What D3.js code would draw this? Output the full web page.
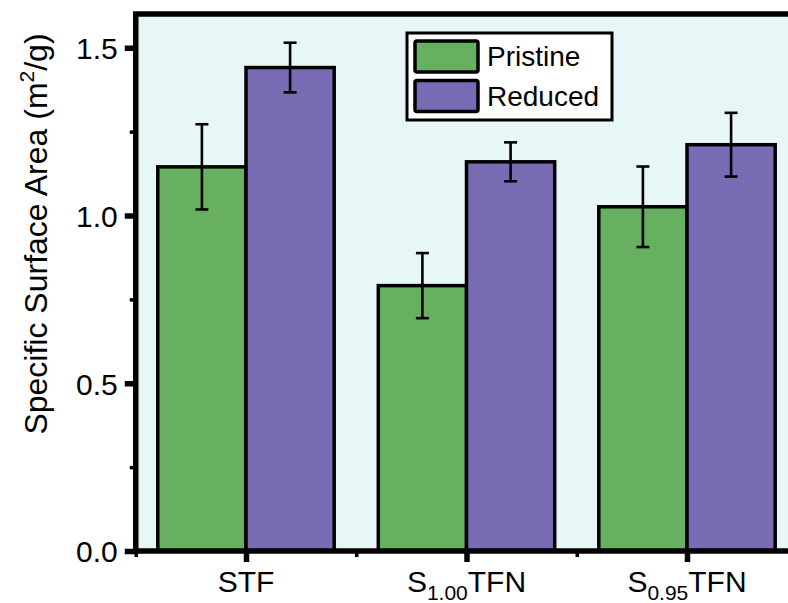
<!DOCTYPE html>
<html><head><meta charset="utf-8">
<script src="https://cdn.jsdelivr.net/npm/d3@7"></script>
<style>body{margin:0;background:#fff}svg{display:block}text{font-family:"Liberation Sans",Arial,sans-serif;fill:#000}</style>
</head><body>
<svg id="c" width="788" height="603"></svg>
<script>
const categories = [["S","","TF"],["S","1.00","TFN"],["S","0.95","TFN"]];
const categoryKeys = ["STF","S1.00TFN","S0.95TFN"];
const series = ["Pristine","Reduced"];
const pristine = [1.145, 0.791, 1.026];
const pristineErr = [0.127, 0.097, 0.120];
const reduced = [1.441, 1.160, 1.211];
const reducedErr = [0.074, 0.058, 0.095];
const yTicks = [0, 0.5, 1.0, 1.5];
const yMinor = [0.25, 0.75, 1.25];
const colors = ["#66b05f", "#7a6bb5"];

const svg = d3.select("#c");
const x = d3.scaleLinear().domain([-0.5, 2.5]).range([135.75, 797.25]);
const y = d3.scaleLinear().domain([0, 1.5]).range([551, 47.75]);
const yTop = 14;
const barW = x(0.4) - x(0);

svg.append("rect").attr("x", x(-0.5)).attr("y", yTop).attr("width", x(2.5) - x(-0.5)).attr("height", y(0) - yTop).attr("fill", "#e7f6f6");

const data = [];
categoryKeys.forEach((k, i) => {
  data.push({i, s: 0, v: pristine[i], e: pristineErr[i]});
  data.push({i, s: 1, v: reduced[i], e: reducedErr[i]});
});

svg.selectAll("rect.bar").data(data).enter().append("rect").attr("class", "bar")
  .attr("x", d => d.s === 0 ? x(d.i) - barW : x(d.i))
  .attr("y", d => y(d.v)).attr("width", barW).attr("height", d => y(0) - y(d.v))
  .attr("fill", d => colors[d.s]).attr("stroke", "#000").attr("stroke-width", 3.5);

const eg = svg.append("g").attr("stroke", "#000").attr("stroke-width", 2.6);
data.forEach(d => {
  const cx = d.s === 0 ? x(d.i) - barW / 2 : x(d.i) + barW / 2;
  eg.append("line").attr("x1", cx).attr("x2", cx).attr("y1", y(d.v + d.e)).attr("y2", y(d.v - d.e));
  [d.v + d.e, d.v - d.e].forEach(v => eg.append("line").attr("x1", cx - 6.5).attr("x2", cx + 6.5).attr("y1", y(v)).attr("y2", y(v)));
});

svg.append("rect").attr("x", x(-0.5)).attr("y", yTop).attr("width", x(2.5) - x(-0.5)).attr("height", y(0) - yTop)
  .attr("fill", "none").attr("stroke", "#000").attr("stroke-width", 5.5);

const yAxis = d3.axisLeft(y).tickValues(yTicks).tickFormat(d3.format(".1f")).tickSize(11).tickPadding(7);
const ya = svg.append("g").attr("transform", `translate(${x(-0.5)},0)`).call(yAxis);
ya.select(".domain").remove();
ya.selectAll(".tick line").attr("stroke-width", 5.5);
ya.selectAll(".tick text").attr("font-size", 30).attr("dy", "0.36em");
const ym = svg.append("g").attr("transform", `translate(${x(-0.5)},0)`).call(d3.axisLeft(y).tickValues(yMinor).tickFormat("").tickSize(6));
ym.select(".domain").remove();
ym.selectAll(".tick line").attr("stroke-width", 3.5);

const xa = svg.append("g").attr("transform", `translate(0,${y(0)})`).call(d3.axisBottom(x).tickValues([0,1,2]).tickFormat("").tickSize(11));
xa.select(".domain").remove();
xa.selectAll(".tick line").attr("stroke-width", 5.5);
const xm = svg.append("g").attr("transform", `translate(0,${y(0)})`).call(d3.axisBottom(x).tickValues([-0.5,0.5,1.5]).tickFormat("").tickSize(6));
xm.select(".domain").remove();
xm.selectAll(".tick line").attr("stroke-width", 3.5);

categories.forEach((c, i) => {
  const t = svg.append("text").attr("x", x(i)).attr("y", 592).attr("text-anchor", "middle").attr("font-size", 30);
  if (c[1] === "") { t.text(c[0] + c[2]); }
  else {
    t.append("tspan").text(c[0]);
    t.append("tspan").attr("font-size", 21).attr("dy", 8).text(c[1]);
    t.append("tspan").attr("dy", -8).text(c[2]);
  }
});

const yt = svg.append("text").attr("transform", "translate(47,234) rotate(-90)").attr("text-anchor", "middle").attr("font-size", 32);
yt.append("tspan").text("Specific Surface Area (m");
yt.append("tspan").attr("font-size", 21).attr("dy", -13).text("2");
yt.append("tspan").attr("dy", 13).text("/g)");

const lg = svg.append("g");
lg.append("rect").attr("x", 407).attr("y", 33).attr("width", 205).attr("height", 87).attr("fill", "#fff").attr("stroke", "#000").attr("stroke-width", 3);
series.forEach((s, i) => {
  const yy = 41 + i * 39.5;
  lg.append("rect").attr("x", 415).attr("y", yy).attr("width", 63).attr("height", 31).attr("rx", 2)
    .attr("fill", colors[i]).attr("stroke", "#000").attr("stroke-width", 3.5);
  lg.append("text").attr("x", 487).attr("y", yy + 25).attr("font-size", 28).text(s);
});
</script>
</body></html>
